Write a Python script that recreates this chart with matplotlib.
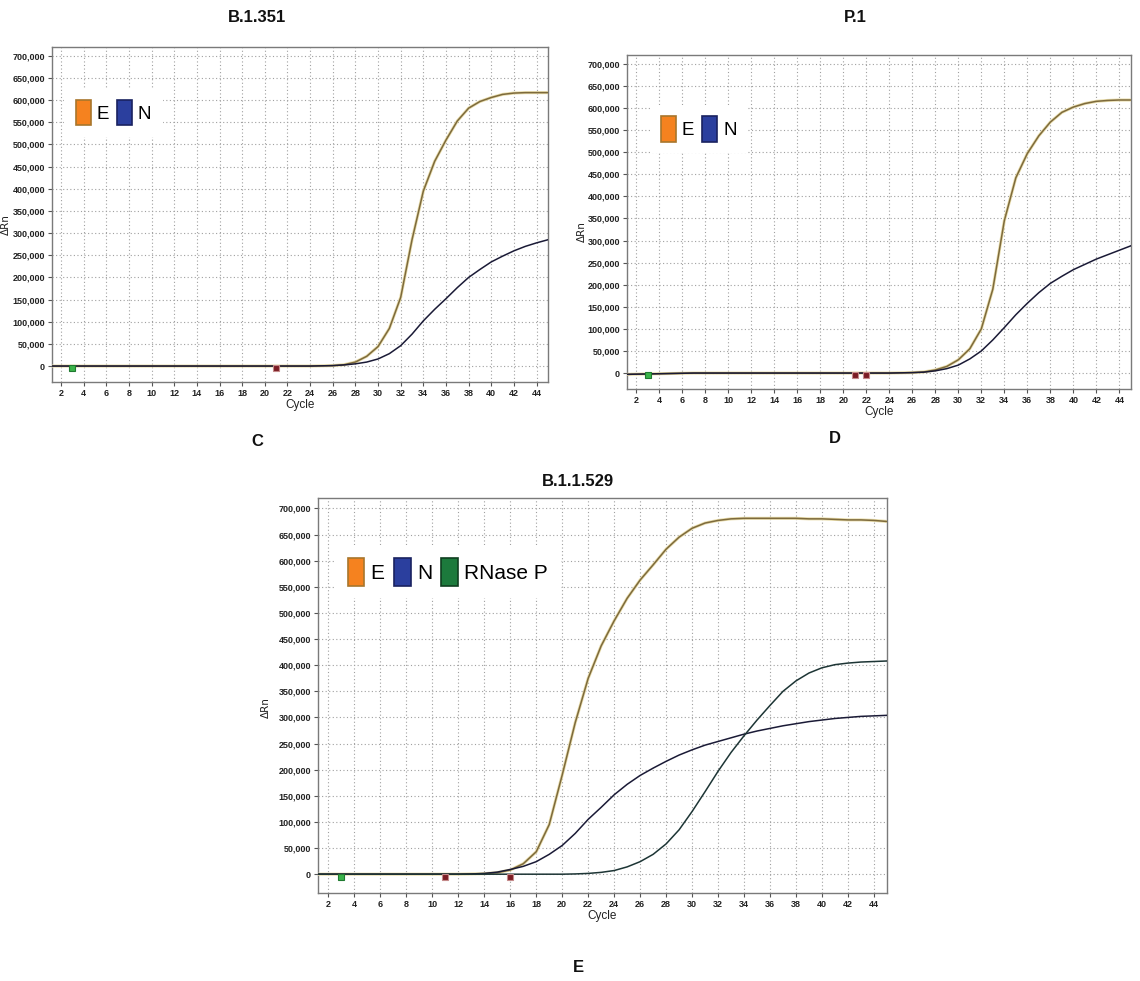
import matplotlib
matplotlib.use('Agg')
import matplotlib.pyplot as plt
from matplotlib.patches import Patch

plt.rcParams['font.family'] = ['Liberation Sans Narrow', 'Liberation Sans', 'DejaVu Sans']

cycles = list(range(1, 46))

# --- B.1.351 amplification (delta Rn per cycle) ---
b1351_e = [0, 0, 0, 0, 0, 0, 0, 0, 0, 0, 0, 0, 0, 0, 0, 0, 0, 0, 0, 0, 0, 0, 0, 0,
           500, 1000, 3000, 9000, 22000, 44000, 85000, 155000, 285000, 395000, 462000,
           510000, 553000, 582000, 597000, 606000, 613000, 616000, 617000, 617000, 617000]
b1351_n = [0, 0, 0, 0, 0, 0, 0, 0, 0, 0, 0, 0, 0, 0, 0, 0, 0, 0, 0, 0, 0, 0, 0, 0,
           500, 1000, 2500, 5000, 9000, 16000, 28000, 46000, 72000, 102000, 128000,
           152000, 177000, 200000, 218000, 235000, 248000, 260000, 270000, 278000, 285000]

# --- P.1 ---
p1_e = [-3000, -2500, -2000, -1500, -1000, -500, 0, 0, 0, 0, 0, 0, 0, 0, 0, 0, 0, 0, 0, 0, 0, 0, 0, 0,
        500, 1000, 2500, 7000, 15000, 30000, 55000, 100000, 190000, 345000, 442000,
        497000, 537000, 568000, 590000, 602000, 610000, 615000, 617000, 618000, 618000]
p1_n = [-3000, -2500, -2000, -1500, -1000, -500, 0, 0, 0, 0, 0, 0, 0, 0, 0, 0, 0, 0, 0, 0, 0, 0, 0, 0,
        500, 1000, 2000, 5000, 10000, 18000, 32000, 50000, 75000, 103000, 132000,
        158000, 182000, 203000, 219000, 234000, 246000, 258000, 268000, 278000, 288000]

# --- B.1.1.529 ---
b11529_e = [0, 0, 0, 0, 0, 0, 0, 0, 0, 0, 0, 0,
            500, 1000, 3000, 8000, 20000, 43000, 95000, 190000, 290000, 375000, 437000,
            485000, 528000, 563000, 592000, 622000, 645000, 662000, 672000, 677000, 680000,
            681000, 681000, 681000, 681000, 681000, 680000, 680000, 679000, 678000, 678000,
            677000, 675000]
b11529_n = [0, 0, 0, 0, 0, 0, 0, 0, 0, 0, 0, 0,
            500, 1500, 4000, 9000, 15000, 24000, 38000, 55000, 78000, 105000, 128000,
            152000, 172000, 189000, 203000, 216000, 228000, 238000, 247000, 254000, 261000,
            268000, 274000, 279000, 284000, 288000, 292000, 295000, 298000, 300000, 302000,
            303000, 304000]
b11529_rnp = [0, 0, 0, 0, 0, 0, 0, 0, 0, 0, 0, 0, 0, 0, 0, 0, 0, 0, 0, 0,
              500, 1500, 3500, 7000, 14000, 24000, 38000, 58000, 85000, 120000, 158000,
              197000, 233000, 265000, 295000, 323000, 350000, 370000, 385000, 395000,
              401000, 404000, 406000, 407000, 408000]

# baseline-range / threshold flags shown under the zero line
flags_c = {'green': [3], 'red': [21]}
flags_d = {'green': [3], 'red': [21, 22]}
flags_e = {'green': [3], 'red': [11, 16]}

key_colors = {'E': '#f5821f', 'N': '#2b3f9e', 'RNase P': '#1c7a3c'}
key_edges = {'E': '#a8762c', 'N': '#1a2260', 'RNase P': '#0f3f20'}

line_e = '#7d6a3c'
line_n = '#1a1a36'
line_rnp = '#1d3535'

y_ticks = list(range(0, 700001, 50000))
x_ticks = list(range(2, 45, 2))


def draw_panel(ax, curves, flags, keys, key_anchor, key_size, ylab_x):
    ax.set_xlim(1.2, 45)
    ax.set_ylim(-36000, 720000)
    ax.set_yticks(y_ticks)
    ax.set_yticklabels([f'{v:,}' for v in y_ticks])
    ax.set_xticks(x_ticks)
    ax.grid(True, color='#a0a0a0', linestyle=(0, (1, 2.2)), linewidth=0.8)
    ax.set_axisbelow(True)
    for s in ax.spines.values():
        s.set_color('#7a7a7a')
        s.set_linewidth(1.0)
    ax.tick_params(axis='both', length=3, width=0.8, color='#555555',
                   labelsize=6.5, labelcolor='#222222', pad=2)
    for lbl in ax.get_xticklabels() + ax.get_yticklabels():
        lbl.set_fontweight('bold')
    ax.set_xlabel('Cycle', fontsize=8.5, color='#222222', labelpad=1)
    ax.set_ylabel('ΔRn', fontsize=7.5, color='#222222', family=['DejaVu Sans'])
    ax.yaxis.set_label_coords(ylab_x, 0.47)

    for vals, color, is_e in curves:
        if is_e:
            # pale halo around the E trace
            ax.plot(cycles, vals, color='#e8dcaa', linewidth=2.2, zorder=3)
        ax.plot(cycles, vals, color=color, linewidth=1.1, zorder=4)

    for c in flags['green']:
        ax.plot(c, -4500, marker='s', markersize=4.5, markerfacecolor='#3bb44a',
                markeredgecolor='#1f7a30', markeredgewidth=0.8, zorder=5)
    for c in flags['red']:
        ax.plot(c, -4500, marker='s', markersize=4.5, markerfacecolor='#7c1c24',
                markeredgecolor='#c48a8a', markeredgewidth=0.8, zorder=5)

    handles = [Patch(facecolor=key_colors[k], edgecolor=key_edges[k], linewidth=1.2, label=k)
               for k in keys]
    leg = ax.legend(handles=handles, ncol=len(keys), loc='upper left',
                    bbox_to_anchor=key_anchor, frameon=True, fancybox=False,
                    facecolor='white', edgecolor='none', framealpha=1.0,
                    fontsize=key_size, handlelength=0.8, handleheight=1.7,
                    handletextpad=0.3, columnspacing=0.45, borderpad=0.6,
                    borderaxespad=0.0)
    leg.set_zorder(6)


fig = plt.figure(figsize=(11.4, 9.81), dpi=100)

ax_c = fig.add_axes([0.0456, 0.6106, 0.435, 0.3415])
ax_d = fig.add_axes([0.550, 0.6035, 0.442, 0.3405])
ax_e = fig.add_axes([0.279, 0.0897, 0.499, 0.4027])

draw_panel(ax_c, [(b1351_e, line_e, True), (b1351_n, line_n, False)],
           flags_c, ['E', 'N'], (0.025, 0.875), 13.5, -0.082)
draw_panel(ax_d, [(p1_e, line_e, True), (p1_n, line_n, False)],
           flags_d, ['E', 'N'], (0.045, 0.85), 13.5, -0.08)
draw_panel(ax_e, [(b11529_e, line_e, True), (b11529_n, line_n, False),
                  (b11529_rnp, line_rnp, False)],
           flags_e, ['E', 'N', 'RNase P'], (0.03, 0.88), 15, -0.082)

title_kw = dict(ha='center', va='center', fontsize=12, fontweight='bold', color='#111111')
fig.text(257 / 1140, 1 - 18 / 981, 'B.1.351', **title_kw)
fig.text(855 / 1140, 1 - 18 / 981, 'P.1', **title_kw)
fig.text(578 / 1140, 1 - 482 / 981, 'B.1.1.529', **title_kw)
fig.text(257 / 1140, 1 - 441 / 981, 'C', **title_kw)
fig.text(835 / 1140, 1 - 438 / 981, 'D', **title_kw)
fig.text(578 / 1140, 1 - 968 / 981, 'E', **title_kw)

fig.savefig('out.png', dpi=100)
